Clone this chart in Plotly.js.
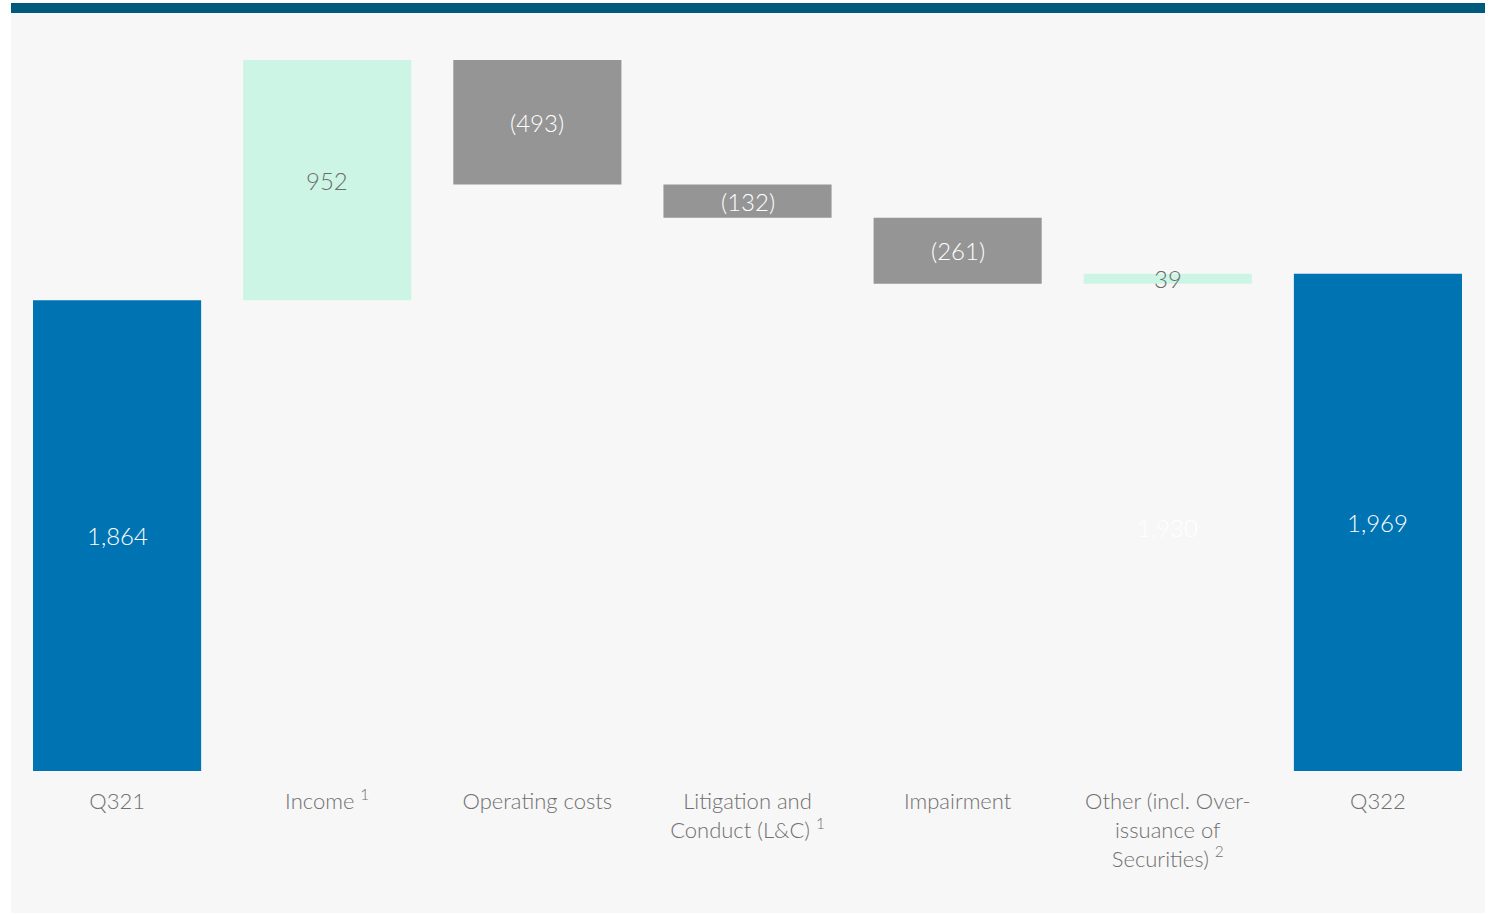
<!DOCTYPE html>
<html>
<head>
<meta charset="utf-8">
<script src="https://cdn.plot.ly/plotly-3.0.1.min.js"></script>
<style>html,body{margin:0;padding:0;background:#fff;}#chart{width:1490px;height:914px;}</style>
</head>
<body>
<div id="chart"></div>
<script>
// ---- data ----
const categories = ["Q321", "Income", "Operating costs", "Litigation and Conduct (L&C)", "Impairment", "Other", "Q322"];
const tickLabels = ["Q321", "Income <sup>1</sup>", "Operating costs", "Litigation and<br>Conduct (L&C) <sup>1</sup>", "Impairment", "Other (incl. Over-<br>issuance of<br>Securities) <sup>2</sup>", "Q322"];
const measures = ["absolute", "relative", "relative", "relative", "relative", "relative", "total"];
const values = [1864, 952, -493, -132, -261, 39, 1969];
const valueLabels = ["1,864", "952", "(493)", "(132)", "(261)", "39", "1,969"];
const hiddenBaseLabel = {category: "Other", text: "1,930"};

// ---- styles ----
const BLUE = "#0074b3", MINT = "#cdf5e6", GREY = "#959595";
const FONT = "Lato, 'Open Sans', sans-serif";

// label positions computed from running totals
const annotations = [];
let running = 0;
for (let i = 0; i < categories.length; i++) {
  let lo, hi, col;
  if (measures[i] === "absolute") { lo = 0; hi = values[i]; running = values[i]; col = "#ffffff"; }
  else if (measures[i] === "total") { lo = 0; hi = running; col = "#ffffff"; }
  else { lo = running; hi = running + values[i]; running = hi; col = values[i] >= 0 ? "#6b6b6b" : "#ffffff"; }
  annotations.push({x: categories[i], y: (lo + hi) / 2, xref: "x", yref: "y", text: valueLabels[i],
    showarrow: false, font: {family: FONT, size: 24, weight: 300, color: col}});
  if (categories[i] === hiddenBaseLabel.category) {
    annotations.push({x: categories[i], y: Math.min(lo, hi) / 2, xref: "x", yref: "y", text: hiddenBaseLabel.text,
      showarrow: false, font: {family: FONT, size: 24, weight: 300, color: "#ffffff"}});
  }
}

const trace = {
  type: "waterfall",
  x: categories,
  y: values,
  measure: measures,
  increasing: {marker: {color: MINT}},
  decreasing: {marker: {color: GREY}},
  totals: {marker: {color: BLUE}},
  connector: {visible: false},
  textposition: "none",
  hoverinfo: "skip"
};

const plotH = 758; // px between top (13) and bottom (771)
const plotW = 1471;
const layout = {
  width: 1490, height: 914,
  margin: {l: 12, r: 7, t: 13, b: 143, pad: 0},
  paper_bgcolor: "#ffffff",
  plot_bgcolor: "rgba(0,0,0,0)",
  showlegend: false,
  bargap: 0.19,
  font: {family: FONT, color: "#707070"},
  xaxis: {
    type: "category",
    tickvals: categories, ticktext: tickLabels,
    tickfont: {family: FONT, size: 22, weight: 300, color: "#707070"},
    ticks: "outside", ticklen: 11, tickcolor: "rgba(0,0,0,0)",
    showline: false, showgrid: false, zeroline: false,
    range: [-0.5, 6.5], fixedrange: true
  },
  yaxis: {
    range: [0, 3002], showticklabels: false, showgrid: false, zeroline: false, showline: false, fixedrange: true
  },
  shapes: [
    {type: "rect", xref: "paper", yref: "paper", layer: "below",
     x0: -1 / plotW, x1: 1 + 2 / plotW, y0: -(913 - 771) / plotH, y1: 1 + 10 / plotH,
     fillcolor: "#f7f7f7", line: {width: 0}},
    {type: "rect", xref: "paper", yref: "paper", layer: "below",
     x0: -1 / plotW, x1: 1 + 2 / plotW, y0: 1, y1: 1 + 10 / plotH,
     fillcolor: "#005a7b", line: {width: 0}}
  ],
  annotations: annotations
};

Plotly.newPlot("chart", [trace], layout, {displayModeBar: false, staticPlot: true});
</script>
</body>
</html>
